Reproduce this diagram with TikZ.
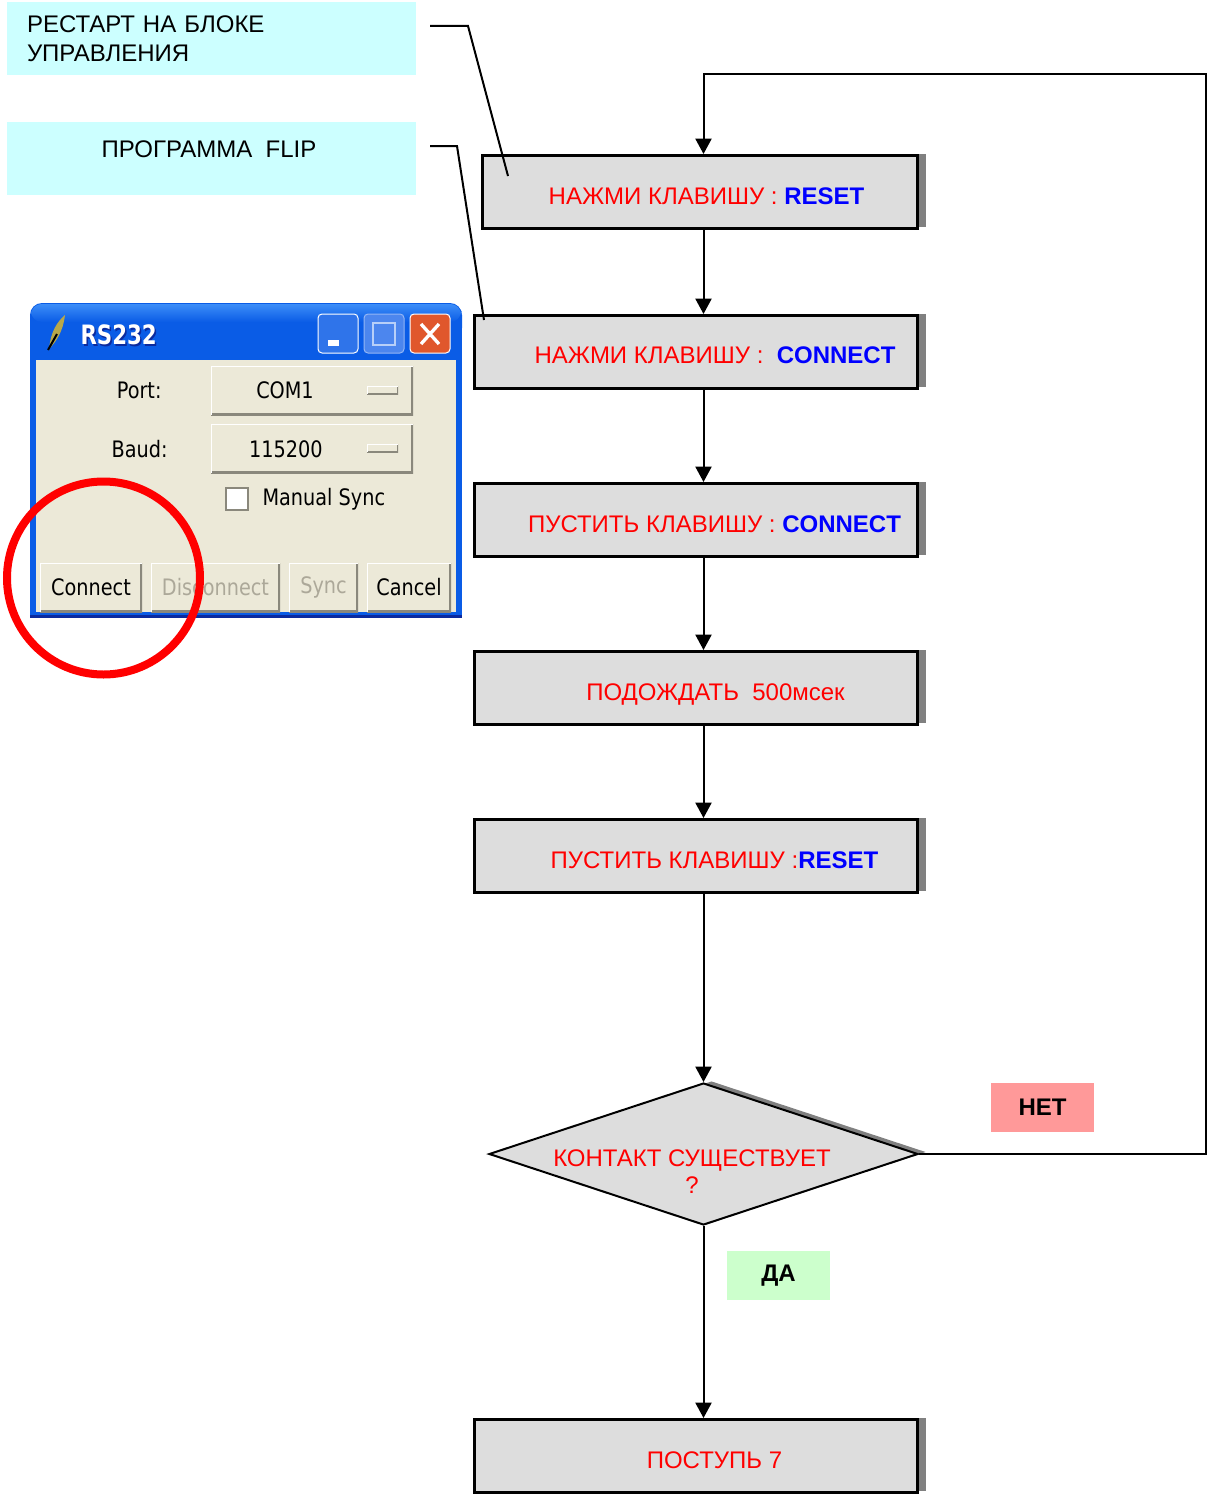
\documentclass[tikz,border=0pt]{standalone}
\usepackage{graphicx}
\usepackage{fontspec}
\setmainfont{Liberation Sans}
\newfontfamily\winfont{DejaVu Sans}
\usetikzlibrary{arrows.meta,shapes.geometric,shadows}

\definecolor{boxgray}{HTML}{DDDDDD}
\definecolor{shadowgray}{HTML}{808080}
\definecolor{notecyan}{HTML}{CCFFFF}
\definecolor{nopink}{HTML}{FF9999}
\definecolor{yesgreen}{HTML}{CCFFCC}
\definecolor{xpblue}{HTML}{0A5CE6}
\definecolor{xptop}{HTML}{3C8DF8}
\definecolor{xpdark}{HTML}{0B2A9E}
\definecolor{winbody}{HTML}{ECE9D8}
\definecolor{btnshade}{HTML}{8A887C}
\definecolor{greytext}{HTML}{ACA899}
\definecolor{closered}{HTML}{E0572C}
\definecolor{maxblue}{HTML}{4C86EE}
\definecolor{feather}{HTML}{B8A84A}

\newcommand{\kw}[1]{\textcolor{blue}{\textbf{#1}}}
\newcommand{\wintxt}[1]{\scalebox{0.85}[1]{#1}}

\tikzset{every picture/.style={line width=0.75pt}}
\tikzset{
  flowbox/.style={draw, line width=2.25pt, fill=boxgray, inner sep=0pt,
    minimum width=332.25pt, minimum height=54.75pt,
    drop shadow={shadow xshift=6pt, shadow yshift=1.5pt, fill=shadowgray, opacity=1}},
  flowtxt/.style={text=red, font=\fontsize{18}{20.25}\selectfont, inner sep=0pt},
  decision/.style={diamond, draw, line width=1.5pt, fill=boxgray, inner sep=0pt,
    minimum width=321.75pt, minimum height=106.5pt,
    drop shadow={shadow xshift=6pt, shadow yshift=1.5pt, fill=shadowgray, opacity=1}},
  arr/.style={line width=1.5pt, -{Triangle[width=12pt,length=11.5pt]}},
  leader/.style={line width=1.5pt},
  note/.style={fill=notecyan, minimum width=306.75pt, minimum height=54.75pt, inner sep=0pt,
    font=\fontsize{18}{21.75}\selectfont},
  answer/.style={minimum width=77.25pt, minimum height=36.75pt, inner sep=0pt,
    font=\fontsize{18}{21}\selectfont\bfseries},
  wintxt/.style={font=\winfont\fontsize{17}{20}\selectfont, inner sep=0pt},
  tkbtn/.style={fill=winbody, inner sep=0pt, path picture={
      \draw[btnshade, line width=3pt] (path picture bounding box.south west) -- (path picture bounding box.south east) -- (path picture bounding box.north east);
      \draw[white, line width=2pt] (path picture bounding box.south west) -- (path picture bounding box.north west) -- (path picture bounding box.north east);}},
  tkind/.style={fill=winbody, inner sep=0pt, minimum width=23.25pt, minimum height=6pt, path picture={
      \draw[btnshade, line width=2pt] (path picture bounding box.south west) -- (path picture bounding box.south east) -- (path picture bounding box.north east);
      \draw[white, line width=1pt] (path picture bounding box.south west) -- (path picture bounding box.north west) -- (path picture bounding box.north east);}},
}

\begin{document}
\begin{tikzpicture}[x=0.75pt,y=0.75pt,yscale=-1,xscale=1]
\useasboundingbox (0,0) rectangle (1207,1495);

% Notes
\node[note, text width=276.75pt, align=left] (lab1) at (211.5,38.5) {РЕСТАРТ НА БЛОКЕ\\УПРАВЛЕНИЯ};
\node[note] (lab2) at (211.5,158.5) {};
\node[note, fill=none, anchor=base] (lab2txt) at (209,157) {ПРОГРАММА~~FLIP};

% Leader lines
\coordinate (ld1a) at (430,26);
\coordinate (ld1b) at (468,26);
\coordinate (ld1c) at (508,176);
\coordinate (ld2a) at (430,146);
\coordinate (ld2b) at (457,146);
\coordinate (ld2c) at (484,320);

% Flowchart: Process
\node[flowbox, minimum width=326.25pt] (b1) at (700,192) {};
\node[flowbox] (b2) at (696,352) {};
\node[flowbox] (b3) at (696,520) {};
\node[flowbox] (b4) at (696,688) {};
\node[flowbox] (b5) at (696,856) {};
% Flowchart: Decision
\node[decision] (dec) at (703.5,1154) {};
\node[flowbox] (b6) at (696,1456) {};

% Text Node
\node[flowtxt, anchor=base] (t1) at (706.5,204) {НАЖМИ КЛАВИШУ : \kw{RESET}};
\node[flowtxt, anchor=base] (t2) at (715,363) {НАЖМИ КЛАВИШУ :~~\kw{CONNECT}};
\node[flowtxt, anchor=base] (t3) at (714.5,532) {ПУСТИТЬ КЛАВИШУ : \kw{CONNECT}};
\node[flowtxt, anchor=base] (t4) at (715.5,700) {ПОДОЖДАТЬ~~500мсек};
\node[flowtxt, anchor=base] (t5) at (714.5,868) {ПУСТИТЬ КЛАВИШУ :\kw{RESET}};
\node[flowtxt, align=center] (t7) at (692,1172) {КОНТАКТ СУЩЕСТВУЕТ\\?};
\node[flowtxt, anchor=base] (t6) at (714.5,1468) {ПОСТУПЬ 7};

\node[answer, fill=nopink] (no) at (1042.5,1107.5) {НЕТ};
\node[answer, fill=yesgreen] (yes) at (778.5,1275.5) {ДА};

% Connectors
\draw[leader] (ld1a) -- (ld1b) -- (ld1c);
\draw[leader] (ld2a) -- (ld2b) -- (ld2c);
\draw[arr] (b1.south -| dec) -- (b2.north -| dec);
\draw[arr] (b2.south -| dec) -- (b3.north -| dec);
\draw[arr] (b3.south -| dec) -- (b4.north -| dec);
\draw[arr] (b4.south -| dec) -- (b5.north -| dec);
\draw[arr] (b5.south -| dec) -- (dec.north);
\draw[arr] (dec.south) -- (b6.north -| dec);
\coordinate (loopR) at (1206,1154);
\coordinate (loopT) at (703.5,74);
\draw[arr] (dec.east) -- (loopR) |- (loopT) -- (b1.north -| loopT);

% RS232 window
\fill[xpblue, rounded corners=9pt] (30,303) rectangle (462,340);
\fill[xpblue] (30,325) rectangle (462,618);
\shade[top color=xptop, bottom color=xpblue, rounded corners=8pt] (31,304) rectangle (461,322);
\fill[xpdark] (30,615) rectangle (462,618);
\fill[winbody] (36,360) rectangle (456,612);
% feather
\fill[feather] (49,349) .. controls (51,331) and (57,322) .. (65,315) .. controls (63,331) and (57,341) .. (49,349) -- cycle;
\draw[line width=1.5pt] (48,350) -- (57,334);
\node[font=\winfont\bfseries\fontsize{20}{24}\selectfont, text=xpdark, anchor=west, inner sep=0pt] (ttlsh) at (81.5,336.5) {\scalebox{0.8}[1]{RS232}};
\node[font=\winfont\bfseries\fontsize{20}{24}\selectfont, text=white, anchor=west, inner sep=0pt] (ttl) at (80,335) {\scalebox{0.8}[1]{RS232}};
% title buttons
\draw[white, fill=xpblue!85!white, rounded corners=3pt] (318,314) rectangle (358,353);
\fill[white] (328,340) rectangle (339,346);
\draw[maxblue!60!white, fill=maxblue, rounded corners=3pt] (364,314) rectangle (404,353);
\draw[maxblue!40!white, line width=1.5pt] (373,323) rectangle (395,345);
\draw[white, fill=closered, rounded corners=3pt] (410,314) rectangle (450,353);
\draw[white, line width=2.5pt] (421,324) -- (439,344) (421,344) -- (439,324);

% widgets
\node[wintxt, anchor=east] (port) at (162,390) {\wintxt{Port:}};
\node[wintxt, anchor=east] (baud) at (168,449) {\wintxt{Baud:}};
\node[tkbtn, minimum width=151.5pt, minimum height=36.75pt] (com) at (312,390.5) {};
\node[tkind] (comind) at (382.5,390) {};
\node[wintxt] (comtxt) at (285,390) {\wintxt{COM1}};
\node[tkbtn, minimum width=151.5pt, minimum height=36.75pt] (rate) at (312,448.5) {};
\node[tkind] (rateind) at (382.5,448) {};
\node[wintxt] (ratetxt) at (286,449) {\wintxt{115200}};
\node[draw=btnshade, fill=white, line width=1.5pt, minimum size=16.5pt, inner sep=0pt] (chk) at (237,498.5) {};
\node[wintxt, anchor=west] (chktxt) at (262,499) {\wintxt{Manual Sync}};
\node[tkbtn, wintxt, minimum width=76.5pt, minimum height=36.75pt] (bconn) at (91,587.5) {\wintxt{Connect}};
\node[tkbtn, wintxt, text=greytext, minimum width=96.75pt, minimum height=36.75pt] (bdisc) at (215.5,587.5) {\wintxt{Disconnect}};
\node[tkbtn, wintxt, text=greytext, minimum width=51.75pt, minimum height=36.75pt] (bsync) at (323.5,587.5) {\wintxt{Sync}};
\node[tkbtn, wintxt, minimum width=63pt, minimum height=36.75pt] (bcanc) at (409,587.5) {\wintxt{Cancel}};

% marker
\node[circle, draw=red, line width=6pt, minimum size=144.75pt, inner sep=0pt] (ring) at (103.5,578) {};

\end{tikzpicture}
\end{document}
